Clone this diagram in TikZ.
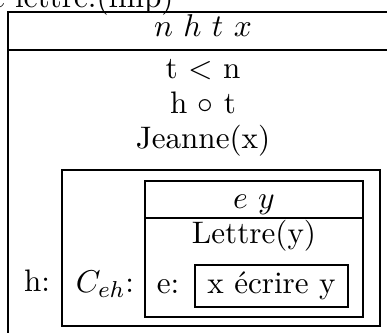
\documentclass[tikz,border=0pt]{standalone}
\begin{document}
\begin{tikzpicture}[x=0.3472pt,y=-0.3472pt,
  box/.style={draw,line width=0.7pt},
  txt/.style={inner sep=0pt,anchor=base,font=\fontsize{10.8}{13}\selectfont}]
\useasboundingbox (0,0) rectangle (387,332);
% outer DRS (clipped on the right and bottom)
\draw[box] (8,12) rectangle (402,345);
\draw[box] (8,50) -- (402,50);
\node[txt,anchor=base east] (cap) at (174,7) {le lettre.(fmp)};
\node[txt] (univ) at (203,36) {$n\ h\ t\ x$};
\node[txt] (c1) at (203,78) {t $<$ n};
\node[txt] (c2) at (203,113) {h $\circ$ t};
\node[txt] (c3) at (203,148) {Jeanne(x)};
% h box
\node[txt] (hlab) at (37,291) {h:};
\draw[box] (62,170) rectangle (380,326);
\node[txt] (clab) at (105,292) {$C_{eh}$:};
% inner DRS
\draw[box] (145,181) rectangle (363,317);
\draw[box] (145,218) -- (363,218);
\node[txt] (univ2) at (254,208) {$e\ y$};
\node[txt] (lettre) at (254,243) {Lettre(y)};
\node[txt] (elab) at (168,293) {e:};
\draw[box] (195,265) rectangle (348,307);
\node[txt] (ecr) at (271.5,293) {x écrire y};
\end{tikzpicture}
\end{document}
